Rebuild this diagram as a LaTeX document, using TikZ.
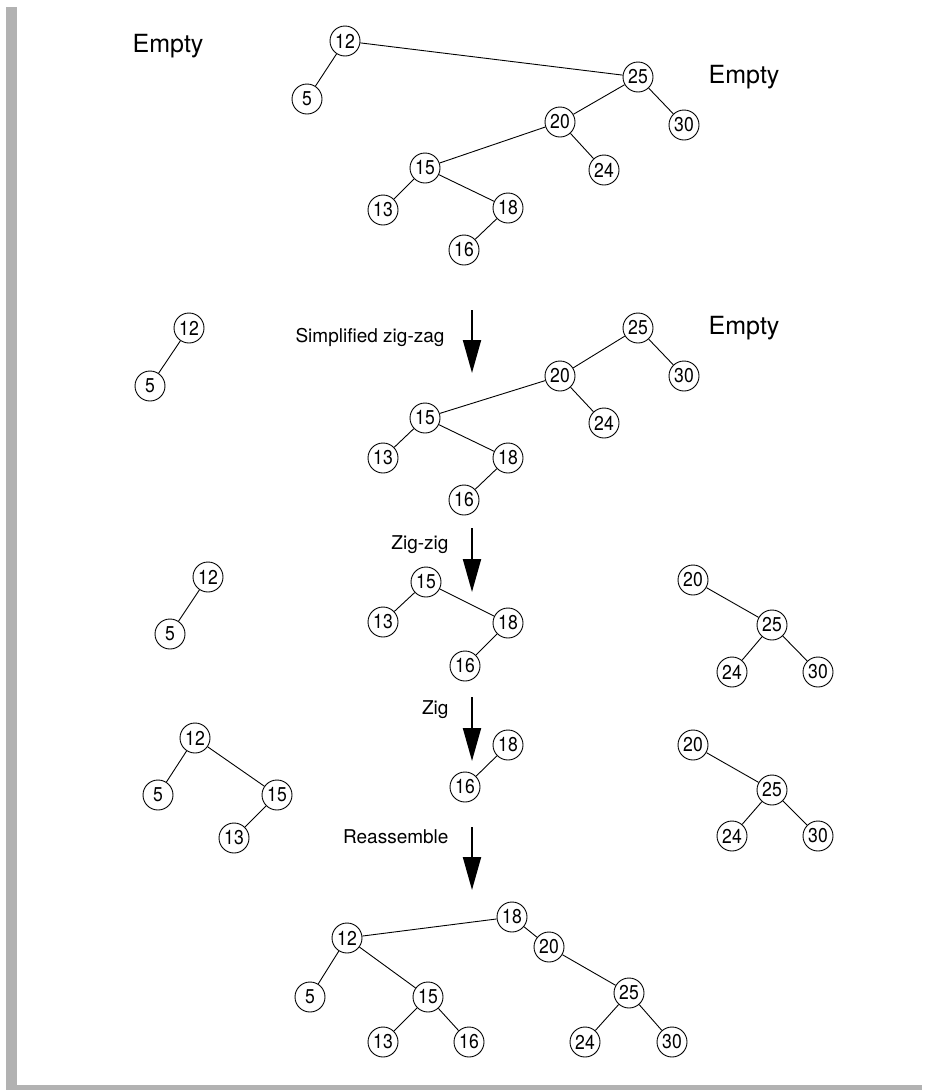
\documentclass[tikz,border=0pt]{standalone}
\usepackage{fontspec}
\setmainfont{TeX Gyre Heros}
\newfontfamily\keyfont[FakeStretch=0.88]{TeX Gyre Heros}
\usetikzlibrary{arrows.meta}

\newcommand*{\arrowx}{472}
\newcommand*{\labelx}{452}

\begin{document}
\begin{tikzpicture}
[
	x=1pt, y=-1pt,
	keynode/.style={circle,draw,line width=0.9pt,inner sep=0pt,minimum size=30pt,font=\keyfont\fontsize{20}{24}\selectfont},
	emptytext/.style={font=\fontsize{25}{30}\selectfont},
	steptext/.style={anchor=east,font=\fontsize{19}{23}\selectfont},
	edge/.style={line width=0.9pt},
	bigarrow/.style={line width=2pt,-{Triangle[length=33pt,width=18pt]}},
	frame/.style={fill=black!30}
]

	\useasboundingbox (0,0) rectangle (926,1090);

	% frame
	\fill[frame] (6,7) rectangle (17,1090);
	\fill[frame] (6,1085) rectangle (922,1090);

	% stage 1
	\node[emptytext] (aemptyl) at (168,46) {Empty};
	\node[emptytext] (aemptyr) at (744,77) {Empty};
	\node[keynode] (a12) at (345,41) {12};
	\node[keynode] (a5) at (307,99) {5};
	\node[keynode] (a25) at (638,77) {25};
	\node[keynode] (a30) at (684,125) {30};
	\node[keynode] (a20) at (560,122) {20};
	\node[keynode] (a24) at (604,170) {24};
	\node[keynode] (a15) at (425,168) {15};
	\node[keynode] (a13) at (383,210) {13};
	\node[keynode] (a18) at (508,208) {18};
	\node[keynode] (a16) at (464,250) {16};
	\draw[edge] (a12) -- (a5);
	\draw[edge] (a12) -- (a25);
	\draw[edge] (a25) -- (a20);
	\draw[edge] (a25) -- (a30);
	\draw[edge] (a20) -- (a15);
	\draw[edge] (a20) -- (a24);
	\draw[edge] (a15) -- (a13);
	\draw[edge] (a15) -- (a18);
	\draw[edge] (a18) -- (a16);

	% simplified zig-zag
	\coordinate (s1top) at (\arrowx,310);
	\coordinate (s1tip) at (\arrowx,373);
	\draw[bigarrow] (s1top) -- (s1tip);
	\node[steptext] (s1text) at (448,337) {Simplified zig-zag};

	% stage 2
	\node[emptytext] (bemptyr) at (744,328) {Empty};
	\node[keynode] (b12) at (189,328) {12};
	\node[keynode] (b5) at (150,386) {5};
	\node[keynode] (b25) at (638,328) {25};
	\node[keynode] (b30) at (684,376) {30};
	\node[keynode] (b20) at (560,376) {20};
	\node[keynode] (b24) at (604,423) {24};
	\node[keynode] (b15) at (425,418) {15};
	\node[keynode] (b13) at (383,458) {13};
	\node[keynode] (b18) at (508,458) {18};
	\node[keynode] (b16) at (464,500) {16};
	\draw[edge] (b12) -- (b5);
	\draw[edge] (b25) -- (b20);
	\draw[edge] (b25) -- (b30);
	\draw[edge] (b20) -- (b15);
	\draw[edge] (b20) -- (b24);
	\draw[edge] (b15) -- (b13);
	\draw[edge] (b15) -- (b18);
	\draw[edge] (b18) -- (b16);

	% zig-zig
	\coordinate (s2top) at (\arrowx,528);
	\coordinate (s2tip) at (\arrowx,592);
	\draw[bigarrow] (s2top) -- (s2tip);
	\node[steptext] (s2text) at (\labelx,545) {Zig-zig};

	% stage 3
	\node[keynode] (c12) at (208,577) {12};
	\node[keynode] (c5) at (170,634) {5};
	\node[keynode] (c15) at (426,582) {15};
	\node[keynode] (c13) at (383,622) {13};
	\node[keynode] (c18) at (508,623) {18};
	\node[keynode] (c16) at (465,666) {16};
	\node[keynode] (c20) at (693,580) {20};
	\node[keynode] (c25) at (772,625) {25};
	\node[keynode] (c24) at (732,672) {24};
	\node[keynode] (c30) at (818,672) {30};
	\draw[edge] (c12) -- (c5);
	\draw[edge] (c15) -- (c13);
	\draw[edge] (c15) -- (c18);
	\draw[edge] (c18) -- (c16);
	\draw[edge] (c20) -- (c25);
	\draw[edge] (c25) -- (c24);
	\draw[edge] (c25) -- (c30);

	% zig
	\coordinate (s3top) at (\arrowx,697);
	\coordinate (s3tip) at (\arrowx,761);
	\draw[bigarrow] (s3top) -- (s3tip);
	\node[steptext] (s3text) at (\labelx,710) {Zig};

	% stage 4
	\node[keynode] (d12) at (195,738) {12};
	\node[keynode] (d5) at (158,795) {5};
	\node[keynode] (d15) at (277,795) {15};
	\node[keynode] (d13) at (234,838) {13};
	\node[keynode] (d18) at (508,745) {18};
	\node[keynode] (d16) at (465,787) {16};
	\node[keynode] (d20) at (693,745) {20};
	\node[keynode] (d25) at (772,790) {25};
	\node[keynode] (d24) at (732,836) {24};
	\node[keynode] (d30) at (818,836) {30};
	\draw[edge] (d12) -- (d5);
	\draw[edge] (d12) -- (d15);
	\draw[edge] (d15) -- (d13);
	\draw[edge] (d18) -- (d16);
	\draw[edge] (d20) -- (d25);
	\draw[edge] (d25) -- (d24);
	\draw[edge] (d25) -- (d30);

	% reassemble
	\coordinate (s4top) at (\arrowx,827);
	\coordinate (s4tip) at (\arrowx,890);
	\draw[bigarrow] (s4top) -- (s4tip);
	\node[steptext] (s4text) at (\labelx,837) {Reassemble};

	% stage 5
	\node[keynode] (e18) at (512,917) {18};
	\node[keynode] (e12) at (347,938) {12};
	\node[keynode] (e20) at (549,947) {20};
	\node[keynode] (e5) at (310,997) {5};
	\node[keynode] (e15) at (428,997) {15};
	\node[keynode] (e25) at (629,993) {25};
	\node[keynode] (e13) at (383,1042) {13};
	\node[keynode] (e16) at (469,1042) {16};
	\node[keynode] (e24) at (585,1042) {24};
	\node[keynode] (e30) at (672,1042) {30};
	\draw[edge] (e18) -- (e12);
	\draw[edge] (e18) -- (e20);
	\draw[edge] (e12) -- (e5);
	\draw[edge] (e12) -- (e15);
	\draw[edge] (e15) -- (e13);
	\draw[edge] (e15) -- (e16);
	\draw[edge] (e20) -- (e25);
	\draw[edge] (e25) -- (e24);
	\draw[edge] (e25) -- (e30);

\end{tikzpicture}
\end{document}
